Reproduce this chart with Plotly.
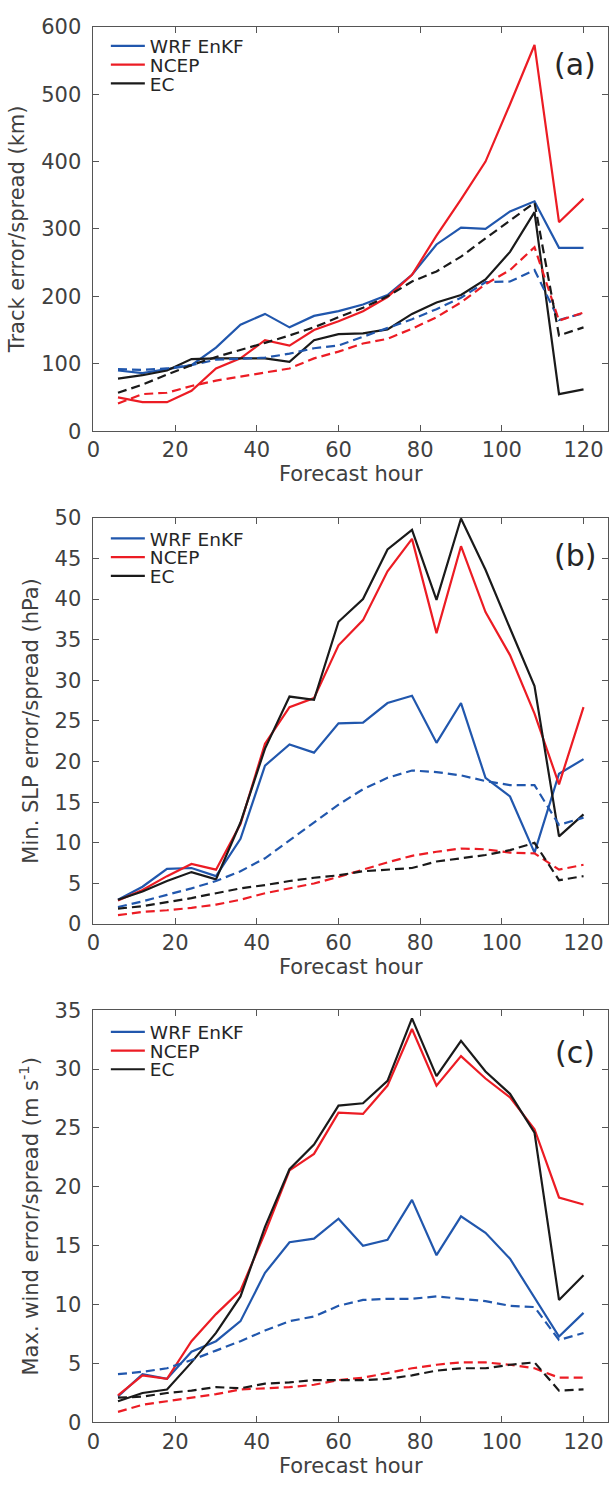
import plotly.graph_objects as go

W, H = 609, 1493

hours = [6, 12, 18, 24, 30, 36, 42, 48, 54, 60, 66, 72, 78, 84, 90, 96, 102, 108, 114, 120]
series_names = ["WRF EnKF", "NCEP", "EC"]
xticks = [0, 20, 40, 60, 80, 100, 120]

# Panel (a): track error (solid) / spread (dashed), km
wrf_a = [90, 86, 92, 98, 124, 158, 174, 154, 171, 178, 188, 202, 232, 277, 302, 300, 326, 341, 272, 272]
ncep_a = [50, 43, 43, 60, 93, 108, 135, 127, 150, 163, 178, 199, 232, 290, 344, 400, 485, 573, 310, 345]
ec_a = [78, 83, 90, 107, 108, 108, 108, 103, 135, 144, 145, 151, 174, 191, 202, 225, 266, 325, 55, 62]
wrf_a_sp = [92, 91, 93, 98, 106, 108, 109, 115, 123, 127, 140, 154, 166, 181, 198, 221, 222, 239, 165, 175]
ncep_a_sp = [41, 55, 57, 67, 75, 81, 86, 93, 108, 118, 130, 137, 152, 169, 191, 218, 239, 273, 164, 176]
ec_a_sp = [57, 69, 84, 98, 110, 120, 131, 142, 154, 169, 183, 200, 222, 237, 259, 286, 312, 339, 142, 154]

# Panel (b): min SLP error / spread, hPa
wrf_b = [3.0, 4.6, 6.8, 6.9, 5.9, 10.5, 19.5, 22.1, 21.1, 24.7, 24.8, 27.2, 28.1, 22.3, 27.2, 18.0, 15.7, 8.8, 18.5, 20.3]
ncep_b = [2.9, 4.2, 5.9, 7.4, 6.7, 12.3, 22.2, 26.7, 27.8, 34.3, 37.4, 43.4, 47.4, 35.8, 46.5, 38.4, 33.1, 25.9, 17.2, 26.7]
ec_b = [3.0, 4.0, 5.3, 6.4, 5.5, 12.5, 21.6, 28.0, 27.6, 37.2, 40.0, 46.1, 48.5, 39.9, 49.9, 43.6, 36.4, 29.3, 10.8, 13.5]
wrf_b_sp = [2.1, 2.8, 3.6, 4.4, 5.3, 6.5, 8.1, 10.3, 12.5, 14.7, 16.6, 18.0, 18.9, 18.7, 18.3, 17.6, 17.1, 17.1, 12.2, 13.1]
ncep_b_sp = [1.1, 1.5, 1.7, 2.0, 2.4, 3.0, 3.8, 4.4, 5.0, 5.8, 6.7, 7.6, 8.4, 8.9, 9.3, 9.2, 8.8, 8.7, 6.7, 7.3]
ec_b_sp = [1.9, 2.2, 2.7, 3.2, 3.8, 4.4, 4.8, 5.3, 5.7, 6.0, 6.5, 6.7, 6.9, 7.7, 8.1, 8.5, 9.1, 10.0, 5.4, 5.9]

# Panel (c): max wind error / spread, m/s
wrf_c = [2.2, 4.1, 3.7, 6.0, 6.9, 8.6, 12.7, 15.3, 15.6, 17.3, 15.0, 15.5, 18.9, 14.2, 17.5, 16.1, 13.9, 10.6, 7.3, 9.3]
ncep_c = [2.3, 4.0, 3.7, 6.9, 9.2, 11.2, 16.1, 21.4, 22.8, 26.3, 26.2, 28.6, 33.4, 28.6, 31.1, 29.2, 27.6, 24.9, 19.1, 18.5]
ec_c = [1.8, 2.5, 2.8, 5.1, 7.6, 10.7, 16.6, 21.5, 23.6, 26.9, 27.1, 29.0, 34.3, 29.4, 32.4, 29.8, 27.9, 24.6, 10.4, 12.5]
wrf_c_sp = [4.1, 4.3, 4.6, 5.3, 6.1, 6.9, 7.8, 8.6, 9.0, 9.9, 10.4, 10.5, 10.5, 10.7, 10.5, 10.3, 9.9, 9.8, 7.0, 7.6]
ncep_c_sp = [0.9, 1.5, 1.8, 2.1, 2.4, 2.8, 2.9, 3.0, 3.2, 3.6, 3.8, 4.2, 4.6, 4.9, 5.1, 5.1, 4.9, 4.6, 3.8, 3.8]
ec_c_sp = [2.1, 2.2, 2.5, 2.7, 3.0, 2.9, 3.3, 3.4, 3.6, 3.6, 3.6, 3.7, 4.0, 4.4, 4.6, 4.6, 4.9, 5.1, 2.7, 2.8]

panel_labels = ["(a)", "(b)", "(c)"]
y_titles = ["Track error/spread (km)", "Min. SLP error/spread (hPa)",
            "Max. wind error/spread (m s<sup>-1</sup>)"]
y_ranges = [[0, 600], [0, 50], [0, 35]]
y_dticks = [100, 5, 5]

panels = [
    ([wrf_a, ncep_a, ec_a], [wrf_a_sp, ncep_a_sp, ec_a_sp]),
    ([wrf_b, ncep_b, ec_b], [wrf_b_sp, ncep_b_sp, ec_b_sp]),
    ([wrf_c, ncep_c, ec_c], [wrf_c_sp, ncep_c_sp, ec_c_sp]),
]

colors = ["#2157ad", "#ec1c24", "#1a1a1a"]
FONT = "DejaVu Sans"
TXT = "#404040"
AX = "#555555"

# pixel layout of each axes box (top, bottom)
x_px = (87.5, 608.0)
y_px = [(15.0, 426.0), (514.0, 927.0), (1014.5, 1433.5)]
legend_rows_px = [(35.0, 54.0, 73.0), (535.5, 554.5, 573.5), (1037.0, 1056.0, 1075.0)]
label_pos = [(575, 53), (575, 552), (575, 1058)]

fig = go.Figure()
layout = dict(
    width=W, height=H, margin=dict(l=0, r=0, t=0, b=0),
    paper_bgcolor="white", plot_bgcolor="white",
    font=dict(family=FONT, size=21, color=TXT),
    showlegend=True,
)

annotations = []
leg_idx = 0
for p, (solids, spreads) in enumerate(panels):
    xa = "x" if p == 0 else f"x{p+1}"
    ya = "y" if p == 0 else f"y{p+1}"
    for k in range(3):
        leg_idx += 1
        lname = "legend" if leg_idx == 1 else f"legend{leg_idx}"
        fig.add_trace(go.Scatter(
            x=hours, y=solids[k], mode="lines", name=series_names[k],
            line=dict(color=colors[k], width=2.2),
            xaxis=xa, yaxis=ya, legend=lname, showlegend=True,
        ))
        layout[lname] = dict(
            x=100 / W, xanchor="left",
            y=1 - legend_rows_px[p][k] / H, yanchor="middle",
            bgcolor="rgba(0,0,0,0)", borderwidth=0,
            font=dict(family=FONT, size=18.5, color="#262626"),
            itemwidth=34, tracegroupgap=0,
        )
    for k in range(3):
        fig.add_trace(go.Scatter(
            x=hours, y=spreads[k], mode="lines", name=series_names[k] + " spread",
            line=dict(color=colors[k], width=2.2, dash="9px,5px"),
            xaxis=xa, yaxis=ya, showlegend=False,
        ))

    top, bot = y_px[p]
    xkey = "xaxis" if p == 0 else f"xaxis{p+1}"
    ykey = "yaxis" if p == 0 else f"yaxis{p+1}"
    layout[xkey] = dict(
        domain=[x_px[0] / W, x_px[1] / W], anchor=ya, range=[0, 126],
        tickvals=xticks, ticks="inside", ticklen=6, tickcolor=AX, tickwidth=1,
        showline=True, linecolor=AX, linewidth=1, mirror="ticks",
        showgrid=False, zeroline=False,
        tickfont=dict(family=FONT, size=21, color=TXT),
        ticklabelstandoff=0,
        title=dict(text="Forecast hour", standoff=4,
                   font=dict(family=FONT, size=21, color=TXT)),
    )
    layout[ykey] = dict(
        domain=[1 - bot / H, 1 - top / H], anchor=xa, range=y_ranges[p],
        dtick=y_dticks[p], tick0=0, ticks="inside", ticklen=6, tickcolor=AX, tickwidth=1,
        showline=True, linecolor=AX, linewidth=1, mirror="ticks",
        showgrid=False, zeroline=False,
        tickfont=dict(family=FONT, size=21, color=TXT),
        ticklabelstandoff=7,
        title=dict(text=y_titles[p], standoff=10,
                   font=dict(family=FONT, size=21, color=TXT)),
    )
    lx, ly = label_pos[p]
    annotations.append(dict(
        text=panel_labels[p], x=lx / W, y=1 - ly / H, xref="paper", yref="paper",
        xanchor="center", yanchor="middle", showarrow=False,
        font=dict(family=FONT, size=30, color="#262626"),
    ))

layout["annotations"] = annotations
fig.update_layout(**layout)
fig.write_html("out.html")
